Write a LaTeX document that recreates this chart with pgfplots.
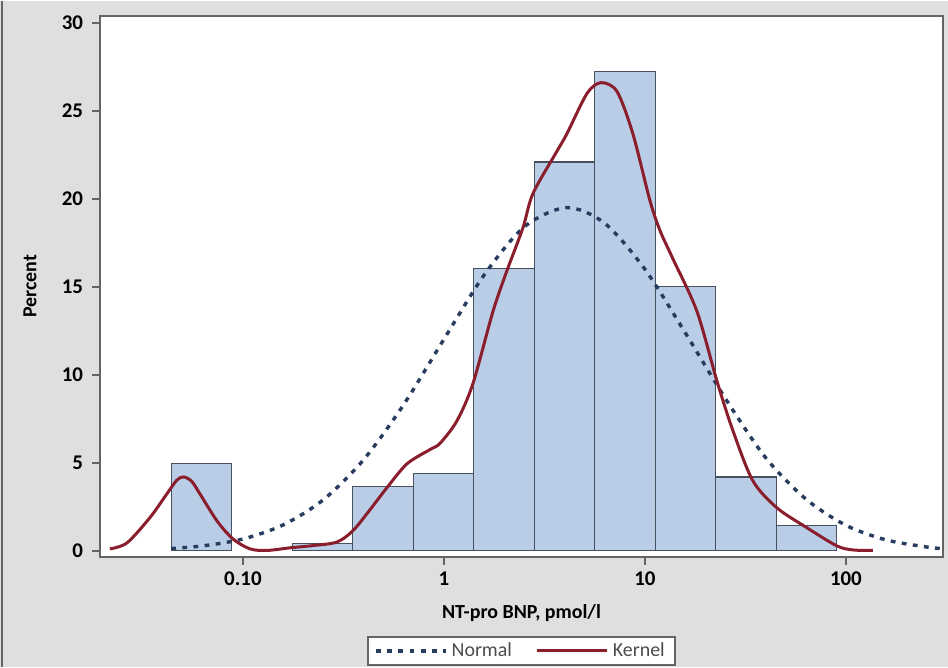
\documentclass[border=0pt]{standalone}
\usepackage{pgfplots}
\pgfplotsset{compat=1.18}
\usepackage{fontspec}
\setmainfont{Carlito}
\definecolor{bgcol}{RGB}{223,223,223}
\definecolor{barfill}{RGB}{186,205,231}
\definecolor{baredge}{RGB}{70,80,95}
\definecolor{kerncol}{RGB}{138,30,45}
\definecolor{normcol}{RGB}{40,60,95}
\definecolor{framecol}{RGB}{100,100,100}
\begin{document}
\begin{tikzpicture}
\fill[bgcol] (0,0) rectangle (474bp,333bp);
\draw[framecol, line width=0.8bp] (1bp,0) -- (1bp,333bp);
\useasboundingbox (0,0) rectangle (474bp,333bp);
\begin{axis}[
  at={(50bp,55bp)}, anchor=south west,
  scale only axis, width=421.5bp, height=270.5bp,
  xmin=-1.711, xmax=2.483, ymin=-0.34, ymax=30.4,
  axis background/.style={fill=white},
  axis line style={framecol, line width=1.2bp},
  xtick={-1,0,1,2}, xticklabels={0.10,1,10,100},
  ytick={0,5,10,15,20,25,30},
  tick align=outside, major tick length=4bp,
  tick style={framecol, line width=0.8bp},
  xtick pos=bottom, ytick pos=left,
  minor tick num=0,
  /pgf/number format/assume math mode=true,
  ticklabel style={font=\fontsize{10.5}{12}\selectfont\bfseries, text=black},
  yticklabel style={xshift=-1bp},
  xlabel={NT-pro BNP, pmol/l},
  ylabel={Percent},
  xlabel style={font=\fontsize{10}{12}\selectfont\bfseries, at={(axis description cs:0.5,-0.1035)}, anchor=center},
  ylabel style={font=\fontsize{10}{12}\selectfont\bfseries, at={(axis description cs:-0.083,0.5)}, anchor=center},
  legend style={at={(axis description cs:0.5,-0.174)}, anchor=center,
    draw=framecol, line width=0.9bp, fill=white,
    font=\fontsize{10}{11}\selectfont, text=black!70,
    inner xsep=3bp, inner ysep=0.8bp},
  legend columns=2,
  legend image code/.code={\draw[#1] (0bp,0bp) -- (35bp,0bp);},
  /tikz/every even column/.append style={column sep=10bp},
]
% histogram bars (log10 bin edges)
\addplot[ybar interval, fill=barfill, draw=baredge, line width=0.65bp, forget plot]
  coordinates {(-1.357,4.97) (-1.056,0)};
\addplot[ybar interval, fill=barfill, draw=baredge, line width=0.65bp, forget plot]
  coordinates {(-0.755,0.40) (-0.454,3.65) (-0.153,4.40) (0.148,16.05) (0.449,22.1)
    (0.750,27.25) (1.051,15.0) (1.352,4.2) (1.653,1.45) (1.954,0)};
% normal curve
\addplot[normcol, line width=1.7bp, dash pattern=on 2.4bp off 3.2bp, smooth]
  coordinates {(-1.357,0.13) (-1.2,0.28) (-1.0,0.67) (-0.8,1.47) (-0.6,2.90)
    (-0.4,5.17) (-0.2,8.31) (0,12.02) (0.2,15.67) (0.4,18.41) (0.61,19.5)
    (0.8,18.61) (1.0,16.0) (1.2,12.4) (1.4,8.66) (1.6,5.3) (1.8,2.95)
    (2.0,1.45) (2.2,0.62) (2.4,0.22) (2.483,0.12)};
\addlegendentry{Normal}
% kernel density
\addplot[kerncol, line width=1.5bp, smooth, tension=0.5]
  coordinates {(-1.662,0.11) (-1.577,0.45) (-1.463,1.88) (-1.378,3.24) (-1.33,4.0)
    (-1.296,4.2) (-1.255,3.95) (-1.214,3.24) (-1.129,1.70) (-1.050,0.68)
    (-0.965,0.11) (-0.881,0.02) (-0.766,0.17) (-0.65,0.30) (-0.532,0.5)
    (-0.453,1.14) (-0.37,2.3) (-0.284,3.58) (-0.184,4.94) (-0.07,5.75)
    (-0.02,6.1) (0.065,7.39) (0.144,9.49) (0.244,13.6) (0.313,15.9)
    (0.393,18.35) (0.443,20.3) (0.562,22.7) (0.612,23.7) (0.711,25.97)
    (0.781,26.6) (0.861,26.1) (0.940,23.7) (1.025,19.9) (1.075,18.2)
    (1.139,16.6) (1.259,13.6) (1.358,9.66) (1.438,6.82) (1.537,3.98)
    (1.657,2.44) (1.806,1.31) (1.955,0.28) (2.035,0.05) (2.134,0.02)};
\addlegendentry{Kernel}
\end{axis}
\end{tikzpicture}
\end{document}
